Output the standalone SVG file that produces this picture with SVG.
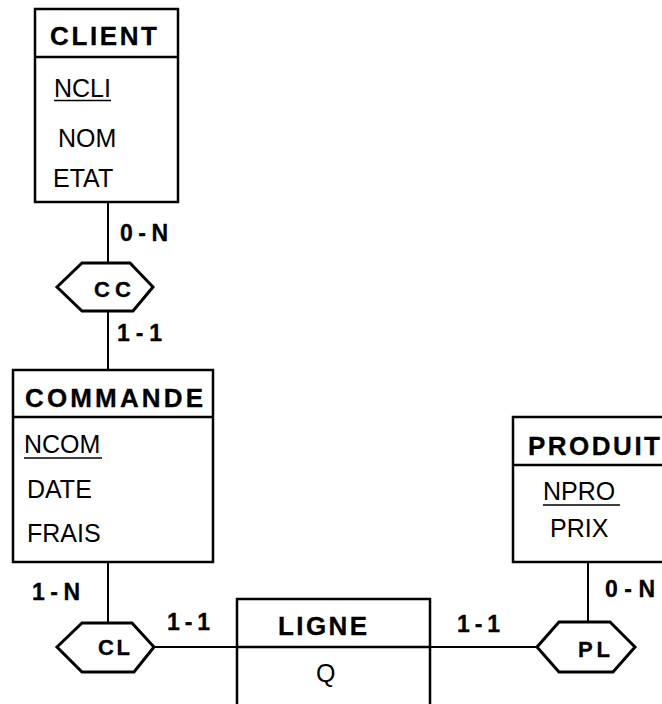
<svg xmlns="http://www.w3.org/2000/svg" width="662" height="704" viewBox="0 0 662 704">
<style>
.box{fill:none;stroke:#000;stroke-width:2.5}
.hex{fill:#fff;stroke:#000;stroke-width:3;stroke-linejoin:miter}
.con{stroke:#000;stroke-width:2;fill:none}
.ul{stroke:#000;stroke-width:1.6}
.t{font-family:"Liberation Sans",Arial,Helvetica,sans-serif;font-weight:bold;font-size:26px;fill:#000;stroke:#000;stroke-width:0.3}
.a{font-family:"Liberation Sans",Arial,Helvetica,sans-serif;font-size:25px;fill:#000}
.c{font-family:"Liberation Sans",Arial,Helvetica,sans-serif;font-weight:bold;font-size:23px;fill:#000;stroke:#000;stroke-width:0.3}
.h{font-family:"Liberation Sans",Arial,Helvetica,sans-serif;font-weight:bold;font-size:22px;fill:#000;stroke:#000;stroke-width:0.3}
</style>
<rect width="662" height="704" fill="#fff"/>
<g id="connectors">
<line class="con" x1="108" y1="202" x2="108" y2="263"/>
<line class="con" x1="108" y1="311" x2="108" y2="370"/>
<line class="con" x1="108" y1="562" x2="108" y2="623"/>
<line class="con" x1="154" y1="647" x2="237" y2="647"/>
<line class="con" x1="430" y1="647" x2="537" y2="647"/>
<line class="con" x1="588" y1="562" x2="588" y2="622"/>
<text class="c" x="120" y="241" textLength="48" lengthAdjust="spacing">0-N</text>
<text class="c" x="117" y="341" textLength="45" lengthAdjust="spacing">1-1</text>
<text class="c" x="32" y="600" textLength="48" lengthAdjust="spacing">1-N</text>
<text class="c" x="167" y="630" textLength="43" lengthAdjust="spacing">1-1</text>
<text class="c" x="457" y="632" textLength="43" lengthAdjust="spacing">1-1</text>
<text class="c" x="605" y="597" textLength="50" lengthAdjust="spacing">0-N</text>
</g>
<g id="CLIENT">
<rect class="box" x="35" y="9" width="143" height="193"/>
<line class="box" x1="35" y1="57" x2="178" y2="57"/>
<text class="t" x="50" y="45" textLength="107" lengthAdjust="spacing">CLIENT</text>
<text class="a" x="54" y="97">NCLI</text>
<line class="ul" x1="54" y1="100.5" x2="111" y2="100.5"/>
<text class="a" x="58" y="147">NOM</text>
<text class="a" x="53" y="187">ETAT</text>
</g>
<g id="CC">
<polygon class="hex" points="57,287 82,263 130,263 153,287 133,311 82,311"/>
<text class="h" x="94" y="297" textLength="37" lengthAdjust="spacing">CC</text>
</g>
<g id="COMMANDE">
<rect class="box" x="13" y="370" width="200" height="192"/>
<line class="box" x1="13" y1="417" x2="213" y2="417"/>
<text class="t" x="25" y="407" textLength="178" lengthAdjust="spacing">COMMANDE</text>
<text class="a" x="24" y="453">NCOM</text>
<line class="ul" x1="24" y1="458" x2="102" y2="458"/>
<text class="a" x="27" y="498">DATE</text>
<text class="a" x="27" y="542">FRAIS</text>
</g>
<g id="CL">
<polygon class="hex" points="57,647 82,623 132,623 154,647 134,672 82,672"/>
<text class="h" x="98" y="655" textLength="32" lengthAdjust="spacing">CL</text>
</g>
<g id="LIGNE">
<polyline class="box" points="237,710 237,599 430,599 430,710"/>
<line class="box" x1="237" y1="647" x2="430" y2="647"/>
<text class="t" x="278" y="635" textLength="89" lengthAdjust="spacing">LIGNE</text>
<text class="a" x="316" y="682">Q</text>
</g>
<g id="PRODUIT">
<rect class="box" x="513" y="417" width="170" height="145"/>
<line class="box" x1="513" y1="465" x2="683" y2="465"/>
<text class="t" x="528" y="455" textLength="132" lengthAdjust="spacing">PRODUIT</text>
<text class="a" x="543" y="500">NPRO</text>
<line class="ul" x1="543" y1="505" x2="620" y2="505"/>
<text class="a" x="550" y="537">PRIX</text>
</g>
<g id="PL">
<polygon class="hex" points="537,647 559,622 610,622 635,647 613,672 559,672"/>
<text class="h" x="578" y="657" textLength="32" lengthAdjust="spacing">PL</text>
</g>
</svg>
